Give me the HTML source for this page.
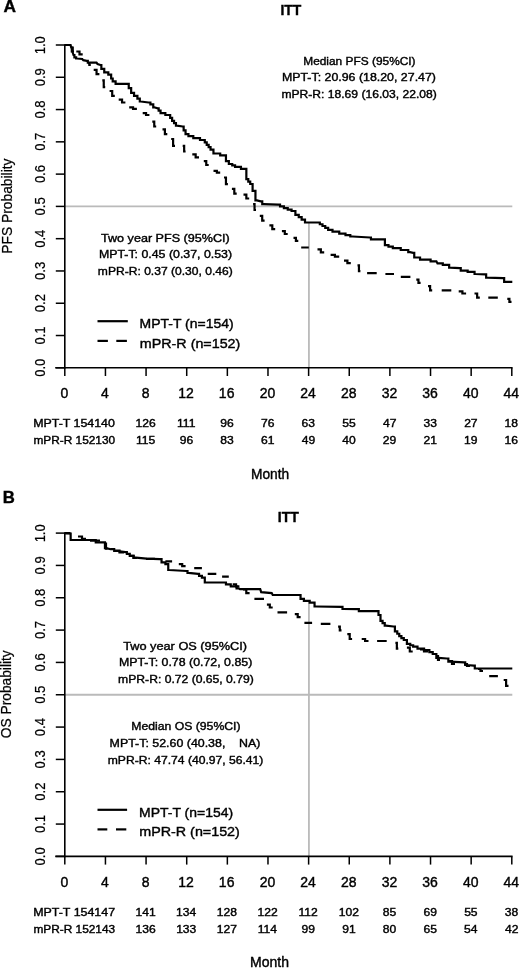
<!DOCTYPE html>
<html><head><meta charset="utf-8"><style>
html,body{margin:0;padding:0;background:#fff;}
svg{display:block;filter:blur(0.3px);}
text{font-family:"Liberation Sans", sans-serif;fill:#000;stroke:#000;stroke-width:0.4px;}
</style></head><body>
<svg width="520" height="968" viewBox="0 0 520 968">
<rect width="520" height="968" fill="#fff"/>
<text x="3.57" y="12.40" font-size="17" font-weight="bold" textLength="12.50" lengthAdjust="spacingAndGlyphs" style="white-space:pre">A</text>
<text x="280.50" y="14.50" font-size="14" font-weight="bold" textLength="20.84" lengthAdjust="spacingAndGlyphs" style="white-space:pre">ITT</text>
<line x1="64.80" y1="206.40" x2="512.30" y2="206.40" stroke="#bababa" stroke-width="1.8"/>
<line x1="308.92" y1="222.50" x2="308.92" y2="367.80" stroke="#bababa" stroke-width="1.8"/>
<line x1="64.80" y1="44.40" x2="64.80" y2="368.60" stroke="#000" stroke-width="1.6"/>
<line x1="55.20" y1="367.80" x2="512.60" y2="367.80" stroke="#000" stroke-width="1.6"/>
<line x1="55.80" y1="367.80" x2="64.80" y2="367.80" stroke="#000" stroke-width="1.5"/>
<line x1="55.80" y1="335.52" x2="64.80" y2="335.52" stroke="#000" stroke-width="1.5"/>
<line x1="55.80" y1="303.24" x2="64.80" y2="303.24" stroke="#000" stroke-width="1.5"/>
<line x1="55.80" y1="270.96" x2="64.80" y2="270.96" stroke="#000" stroke-width="1.5"/>
<line x1="55.80" y1="238.68" x2="64.80" y2="238.68" stroke="#000" stroke-width="1.5"/>
<line x1="55.80" y1="206.40" x2="64.80" y2="206.40" stroke="#000" stroke-width="1.5"/>
<line x1="55.80" y1="174.12" x2="64.80" y2="174.12" stroke="#000" stroke-width="1.5"/>
<line x1="55.80" y1="141.84" x2="64.80" y2="141.84" stroke="#000" stroke-width="1.5"/>
<line x1="55.80" y1="109.56" x2="64.80" y2="109.56" stroke="#000" stroke-width="1.5"/>
<line x1="55.80" y1="77.28" x2="64.80" y2="77.28" stroke="#000" stroke-width="1.5"/>
<line x1="55.80" y1="45.00" x2="64.80" y2="45.00" stroke="#000" stroke-width="1.5"/>
<line x1="64.80" y1="367.80" x2="64.80" y2="376.00" stroke="#000" stroke-width="1.5"/>
<line x1="105.44" y1="367.80" x2="105.44" y2="376.00" stroke="#000" stroke-width="1.5"/>
<line x1="146.07" y1="367.80" x2="146.07" y2="376.00" stroke="#000" stroke-width="1.5"/>
<line x1="186.71" y1="367.80" x2="186.71" y2="376.00" stroke="#000" stroke-width="1.5"/>
<line x1="227.35" y1="367.80" x2="227.35" y2="376.00" stroke="#000" stroke-width="1.5"/>
<line x1="267.98" y1="367.80" x2="267.98" y2="376.00" stroke="#000" stroke-width="1.5"/>
<line x1="308.62" y1="367.80" x2="308.62" y2="376.00" stroke="#000" stroke-width="1.5"/>
<line x1="349.25" y1="367.80" x2="349.25" y2="376.00" stroke="#000" stroke-width="1.5"/>
<line x1="389.89" y1="367.80" x2="389.89" y2="376.00" stroke="#000" stroke-width="1.5"/>
<line x1="430.53" y1="367.80" x2="430.53" y2="376.00" stroke="#000" stroke-width="1.5"/>
<line x1="471.16" y1="367.80" x2="471.16" y2="376.00" stroke="#000" stroke-width="1.5"/>
<line x1="511.80" y1="367.80" x2="511.80" y2="376.00" stroke="#000" stroke-width="1.5"/>
<text transform="translate(45.20,376.31) scale(1.100,1) rotate(-90)" x="-0.52" y="0" font-size="13" textLength="18.07" lengthAdjust="spacingAndGlyphs" style="stroke-width:0.2px">0.0</text>
<text transform="translate(45.20,343.97) scale(1.100,1) rotate(-90)" x="-0.52" y="0" font-size="13" textLength="18.07" lengthAdjust="spacingAndGlyphs" style="stroke-width:0.2px">0.1</text>
<text transform="translate(45.20,311.69) scale(1.100,1) rotate(-90)" x="-0.52" y="0" font-size="13" textLength="18.07" lengthAdjust="spacingAndGlyphs" style="stroke-width:0.2px">0.2</text>
<text transform="translate(45.20,279.44) scale(1.100,1) rotate(-90)" x="-0.52" y="0" font-size="13" textLength="18.07" lengthAdjust="spacingAndGlyphs" style="stroke-width:0.2px">0.3</text>
<text transform="translate(45.20,247.26) scale(1.100,1) rotate(-90)" x="-0.52" y="0" font-size="13" textLength="18.07" lengthAdjust="spacingAndGlyphs" style="stroke-width:0.2px">0.4</text>
<text transform="translate(45.20,214.92) scale(1.100,1) rotate(-90)" x="-0.52" y="0" font-size="13" textLength="18.07" lengthAdjust="spacingAndGlyphs" style="stroke-width:0.2px">0.5</text>
<text transform="translate(45.20,182.60) scale(1.100,1) rotate(-90)" x="-0.52" y="0" font-size="13" textLength="18.07" lengthAdjust="spacingAndGlyphs" style="stroke-width:0.2px">0.6</text>
<text transform="translate(45.20,150.29) scale(1.100,1) rotate(-90)" x="-0.52" y="0" font-size="13" textLength="18.07" lengthAdjust="spacingAndGlyphs" style="stroke-width:0.2px">0.7</text>
<text transform="translate(45.20,118.08) scale(1.100,1) rotate(-90)" x="-0.52" y="0" font-size="13" textLength="18.07" lengthAdjust="spacingAndGlyphs" style="stroke-width:0.2px">0.8</text>
<text transform="translate(45.20,85.76) scale(1.100,1) rotate(-90)" x="-0.52" y="0" font-size="13" textLength="18.07" lengthAdjust="spacingAndGlyphs" style="stroke-width:0.2px">0.9</text>
<text transform="translate(45.20,53.29) scale(1.100,1) rotate(-90)" x="-0.98" y="0" font-size="13" textLength="18.07" lengthAdjust="spacingAndGlyphs" style="stroke-width:0.2px">1.0</text>
<text x="60.41" y="398.10" font-size="14" textLength="7.79" lengthAdjust="spacingAndGlyphs" style="white-space:pre">0</text>
<text x="101.09" y="398.10" font-size="14" textLength="7.79" lengthAdjust="spacingAndGlyphs" style="white-space:pre">4</text>
<text x="141.65" y="398.10" font-size="14" textLength="7.79" lengthAdjust="spacingAndGlyphs" style="white-space:pre">8</text>
<text x="178.26" y="398.10" font-size="14" textLength="15.57" lengthAdjust="spacingAndGlyphs" style="white-space:pre">12</text>
<text x="218.87" y="398.10" font-size="14" textLength="15.57" lengthAdjust="spacingAndGlyphs" style="white-space:pre">16</text>
<text x="259.64" y="398.10" font-size="14" textLength="15.57" lengthAdjust="spacingAndGlyphs" style="white-space:pre">20</text>
<text x="300.21" y="398.10" font-size="14" textLength="15.57" lengthAdjust="spacingAndGlyphs" style="white-space:pre">24</text>
<text x="340.91" y="398.10" font-size="14" textLength="15.57" lengthAdjust="spacingAndGlyphs" style="white-space:pre">28</text>
<text x="381.69" y="398.10" font-size="14" textLength="15.57" lengthAdjust="spacingAndGlyphs" style="white-space:pre">32</text>
<text x="422.29" y="398.10" font-size="14" textLength="15.57" lengthAdjust="spacingAndGlyphs" style="white-space:pre">36</text>
<text x="463.00" y="398.10" font-size="14" textLength="15.57" lengthAdjust="spacingAndGlyphs" style="white-space:pre">40</text>
<text x="503.56" y="398.10" font-size="14" textLength="15.57" lengthAdjust="spacingAndGlyphs" style="white-space:pre">44</text>
<text transform="translate(11.90,252.60) scale(1.100,1) rotate(-90)" x="-1.10" y="0" font-size="13" textLength="95.15" lengthAdjust="spacingAndGlyphs" style="stroke-width:0.2px">PFS Probability</text>
<text x="33.21" y="426.80" font-size="11" textLength="81.70" lengthAdjust="spacingAndGlyphs" style="white-space:pre">MPT-T 154140</text>
<text x="33.43" y="444.00" font-size="11" textLength="81.67" lengthAdjust="spacingAndGlyphs" style="white-space:pre">mPR-R 152130</text>
<text x="135.52" y="426.80" font-size="11" textLength="20.19" lengthAdjust="spacingAndGlyphs" style="white-space:pre">126</text>
<text x="135.91" y="444.00" font-size="11" textLength="19.29" lengthAdjust="spacingAndGlyphs" style="white-space:pre">115</text>
<text x="177.06" y="426.80" font-size="11" textLength="18.39" lengthAdjust="spacingAndGlyphs" style="white-space:pre">111</text>
<text x="179.69" y="444.00" font-size="11" textLength="13.46" lengthAdjust="spacingAndGlyphs" style="white-space:pre">96</text>
<text x="220.33" y="426.80" font-size="11" textLength="13.46" lengthAdjust="spacingAndGlyphs" style="white-space:pre">96</text>
<text x="220.33" y="444.00" font-size="11" textLength="13.46" lengthAdjust="spacingAndGlyphs" style="white-space:pre">83</text>
<text x="260.94" y="426.80" font-size="11" textLength="13.46" lengthAdjust="spacingAndGlyphs" style="white-space:pre">76</text>
<text x="260.97" y="444.00" font-size="11" textLength="13.46" lengthAdjust="spacingAndGlyphs" style="white-space:pre">61</text>
<text x="301.57" y="426.80" font-size="11" textLength="13.46" lengthAdjust="spacingAndGlyphs" style="white-space:pre">63</text>
<text x="301.72" y="444.00" font-size="11" textLength="13.46" lengthAdjust="spacingAndGlyphs" style="white-space:pre">49</text>
<text x="342.24" y="426.80" font-size="11" textLength="13.46" lengthAdjust="spacingAndGlyphs" style="white-space:pre">55</text>
<text x="342.33" y="444.00" font-size="11" textLength="13.46" lengthAdjust="spacingAndGlyphs" style="white-space:pre">40</text>
<text x="383.03" y="426.80" font-size="11" textLength="13.46" lengthAdjust="spacingAndGlyphs" style="white-space:pre">47</text>
<text x="382.85" y="444.00" font-size="11" textLength="13.46" lengthAdjust="spacingAndGlyphs" style="white-space:pre">29</text>
<text x="423.54" y="426.80" font-size="11" textLength="13.46" lengthAdjust="spacingAndGlyphs" style="white-space:pre">33</text>
<text x="423.51" y="444.00" font-size="11" textLength="13.46" lengthAdjust="spacingAndGlyphs" style="white-space:pre">21</text>
<text x="464.15" y="426.80" font-size="11" textLength="13.46" lengthAdjust="spacingAndGlyphs" style="white-space:pre">27</text>
<text x="463.97" y="444.00" font-size="11" textLength="13.46" lengthAdjust="spacingAndGlyphs" style="white-space:pre">19</text>
<text x="504.57" y="426.80" font-size="11" textLength="13.46" lengthAdjust="spacingAndGlyphs" style="white-space:pre">18</text>
<text x="504.60" y="444.00" font-size="11" textLength="13.46" lengthAdjust="spacingAndGlyphs" style="white-space:pre">16</text>
<text x="251.00" y="478.50" font-size="14" textLength="38.18" lengthAdjust="spacingAndGlyphs" style="white-space:pre">Month</text>
<text x="303.25" y="64.50" font-size="11.4" textLength="112.30" lengthAdjust="spacingAndGlyphs" style="white-space:pre">Median PFS (95%CI)</text>
<text x="281.91" y="80.70" font-size="11.4" textLength="154.05" lengthAdjust="spacingAndGlyphs" style="white-space:pre">MPT-T: 20.96 (18.20, 27.47)</text>
<text x="281.41" y="97.60" font-size="11.4" textLength="155.37" lengthAdjust="spacingAndGlyphs" style="white-space:pre">mPR-R: 18.69 (16.03, 22.08)</text>
<text x="101.04" y="242.10" font-size="11.4" textLength="128.64" lengthAdjust="spacingAndGlyphs" style="white-space:pre">Two year PFS (95%CI)</text>
<text x="98.91" y="258.20" font-size="11.4" textLength="133.17" lengthAdjust="spacingAndGlyphs" style="white-space:pre">MPT-T: 0.45 (0.37, 0.53)</text>
<text x="97.87" y="275.20" font-size="11.4" textLength="134.88" lengthAdjust="spacingAndGlyphs" style="white-space:pre">mPR-R: 0.37 (0.30, 0.46)</text>
<line x1="97.50" y1="321.20" x2="127.80" y2="321.20" stroke="#000" stroke-width="2.2"/>
<line x1="97.50" y1="340.90" x2="107.90" y2="340.90" stroke="#000" stroke-width="2.2"/>
<line x1="116.30" y1="340.90" x2="126.90" y2="340.90" stroke="#000" stroke-width="2.2"/>
<text x="139.63" y="328.00" font-size="13.6" textLength="93.96" lengthAdjust="spacingAndGlyphs" style="white-space:pre">MPT-T (n=154)</text>
<text x="139.82" y="347.50" font-size="13.6" textLength="100.51" lengthAdjust="spacingAndGlyphs" style="white-space:pre">mPR-R (n=152)</text>
<path d="M64.60,45.00L70.60,45.00L71.20,47.50H71.80V51.50H72.40L73.50,55.00H74.40V57.30H75.30H76.15V58.50H77.00L82.20,59.00L83.30,60.20L86.80,60.80H87.80V62.70H88.80L96.50,62.70L97.50,64.00L100.40,65.00H101.35V68.80H102.30H104.25V72.30H106.20H108.30V74.60H110.40H111.15V78.50H111.90H112.70V81.30H113.50H115.60V83.80H117.70L127.30,83.80H128.75V88.10H130.20H131.15V92.90H132.10H134.05V95.80H136.00H137.40V98.70H138.80H139.80V101.50H140.80L148.50,102.50H150.40V104.40H152.30H153.25V107.30H154.20L157.70,108.30H158.65V110.70H160.55V113.10H161.50H165.35V115.00H169.20H170.17V117.90H172.12V120.80H173.10H174.05V123.20H175.95V125.60H176.90L182.70,126.50H183.65V130.35H185.55V134.20H186.50H188.45V136.20H190.40H193.30V138.10H196.20H200.00V140.00H203.80H204.78V142.40H206.72V144.80H207.70H208.65V147.20H210.55V149.60H211.50H213.45V153.50H215.40H220.20V155.40H225.00H225.95V161.20H226.90H228.85V164.00H230.80H232.23V165.45H235.07V166.90H236.50H240.95V168.80H245.40H246.35V179.20H247.30H248.28V181.60H250.22V184.00H251.20H252.60V190.80H254.00H255.45V200.40H256.90L260.80,201.30H262.25V204.20H263.70L278.10,204.60H280.03V206.35H283.88V208.10H285.80H287.73V209.55H291.57V211.00H293.50H295.40V214.80H297.30H298.75V217.20H301.65V219.60H303.10H305.00V222.50H306.90L318.50,222.50H319.82V224.25H322.48V226.00H323.80H325.25V227.90H328.15V229.80H329.60H332.50V231.70H335.40H339.25V233.70H343.10H345.50V235.10H350.30V236.50H352.70L370.00,237.50H370.95V239.40H371.90L383.50,239.40H384.90V245.20H386.30H388.48V246.65H392.82V248.10H395.00H400.75V250.00H406.50H408.25V252.20H410.00L413.20,252.80H414.25V257.50H415.30H420.05V259.60H424.80H430.60V261.30H436.40L437.50,263.40H442.80V264.90H448.10H449.15V267.70H450.20L459.70,268.10H460.75V270.60H461.80H467.65V271.90H473.50H474.55V274.00H475.60L485.10,274.40H486.15V277.60H487.20L503.10,278.20H504.15V281.80H505.20L512.30,281.80" fill="none" stroke="#000" stroke-width="2.2" stroke-linejoin="miter" stroke-linecap="butt"/>
<path d="M64.60,45.00H70.50M71.50,47.50H72.75V51.50H74.00M76.30,51.50H79.50V54.40H82.70M87.90,63.10H89.35V65.00H90.80M93.70,69.80H96.55V74.20H99.40M102.30,80.40H103.75V87.10H105.20M109.60,91.00H112.20V95.80H114.80M118.70,99.60H122.05V102.50H125.40M129.20,107.30H133.05V108.80H136.90M142.70,113.10H146.05V115.00H149.40M152.30,121.70H154.25V126.50H156.20M162.50,129.40H164.90V134.20H167.30M171.20,139.00H173.10V145.80H175.00M182.70,145.80H184.15V151.50H185.60M192.30,154.40H195.65V157.30H199.00M203.80,161.20H206.25V165.00H208.70M213.50,170.80H216.85V172.70H220.20M224.00,177.50H225.95V184.20H227.90M231.90,188.80H234.30V193.70H236.70M243.50,194.60H246.35V198.50H249.20M253.10,204.20H254.55V210.00H256.00M259.80,215.80H262.20V220.60H264.60M269.40,225.40H272.30V229.20H275.20M281.90,231.20H284.80V234.00H287.70M293.50,237.90H295.90V240.80H298.30M301.20,247.50H308.80M317.50,249.40H320.85V252.30H324.20M330.60,254.80H334.90V256.70H339.20M344.00,260.60H347.40V263.10H350.80M357.50,265.40H358.95V271.20H360.40M367.10,273.10H376.70M385.40,274.00H394.00M400.80,276.90H410.40M416.30,279.70H418.45V282.90H420.60M428.00,286.10H430.10V290.30H432.20M441.70,290.30H451.30M458.70,291.30H462.40V293.50H466.10M474.50,293.50H477.15V297.70H479.80M488.30,297.70H497.80M507.30,298.80H509.40V301.90H511.50" fill="none" stroke="#000" stroke-width="2.2" stroke-linejoin="miter" stroke-linecap="butt"/>
<text x="2.81" y="502.60" font-size="17" font-weight="bold" textLength="12.08" lengthAdjust="spacingAndGlyphs" style="white-space:pre">B</text>
<text x="277.89" y="521.80" font-size="14" font-weight="bold" textLength="21.05" lengthAdjust="spacingAndGlyphs" style="white-space:pre">ITT</text>
<line x1="64.80" y1="694.75" x2="512.30" y2="694.75" stroke="#bababa" stroke-width="1.8"/>
<line x1="308.92" y1="601.50" x2="308.92" y2="856.40" stroke="#bababa" stroke-width="1.8"/>
<line x1="64.80" y1="532.50" x2="64.80" y2="857.20" stroke="#000" stroke-width="1.6"/>
<line x1="55.20" y1="856.40" x2="512.60" y2="856.40" stroke="#000" stroke-width="1.6"/>
<line x1="55.80" y1="856.40" x2="64.80" y2="856.40" stroke="#000" stroke-width="1.5"/>
<line x1="55.80" y1="824.07" x2="64.80" y2="824.07" stroke="#000" stroke-width="1.5"/>
<line x1="55.80" y1="791.74" x2="64.80" y2="791.74" stroke="#000" stroke-width="1.5"/>
<line x1="55.80" y1="759.41" x2="64.80" y2="759.41" stroke="#000" stroke-width="1.5"/>
<line x1="55.80" y1="727.08" x2="64.80" y2="727.08" stroke="#000" stroke-width="1.5"/>
<line x1="55.80" y1="694.75" x2="64.80" y2="694.75" stroke="#000" stroke-width="1.5"/>
<line x1="55.80" y1="662.42" x2="64.80" y2="662.42" stroke="#000" stroke-width="1.5"/>
<line x1="55.80" y1="630.09" x2="64.80" y2="630.09" stroke="#000" stroke-width="1.5"/>
<line x1="55.80" y1="597.76" x2="64.80" y2="597.76" stroke="#000" stroke-width="1.5"/>
<line x1="55.80" y1="565.43" x2="64.80" y2="565.43" stroke="#000" stroke-width="1.5"/>
<line x1="55.80" y1="533.10" x2="64.80" y2="533.10" stroke="#000" stroke-width="1.5"/>
<line x1="64.80" y1="856.40" x2="64.80" y2="864.60" stroke="#000" stroke-width="1.5"/>
<line x1="105.44" y1="856.40" x2="105.44" y2="864.60" stroke="#000" stroke-width="1.5"/>
<line x1="146.07" y1="856.40" x2="146.07" y2="864.60" stroke="#000" stroke-width="1.5"/>
<line x1="186.71" y1="856.40" x2="186.71" y2="864.60" stroke="#000" stroke-width="1.5"/>
<line x1="227.35" y1="856.40" x2="227.35" y2="864.60" stroke="#000" stroke-width="1.5"/>
<line x1="267.98" y1="856.40" x2="267.98" y2="864.60" stroke="#000" stroke-width="1.5"/>
<line x1="308.62" y1="856.40" x2="308.62" y2="864.60" stroke="#000" stroke-width="1.5"/>
<line x1="349.25" y1="856.40" x2="349.25" y2="864.60" stroke="#000" stroke-width="1.5"/>
<line x1="389.89" y1="856.40" x2="389.89" y2="864.60" stroke="#000" stroke-width="1.5"/>
<line x1="430.53" y1="856.40" x2="430.53" y2="864.60" stroke="#000" stroke-width="1.5"/>
<line x1="471.16" y1="856.40" x2="471.16" y2="864.60" stroke="#000" stroke-width="1.5"/>
<line x1="511.80" y1="856.40" x2="511.80" y2="864.60" stroke="#000" stroke-width="1.5"/>
<text transform="translate(45.20,864.91) scale(1.100,1) rotate(-90)" x="-0.52" y="0" font-size="13" textLength="18.07" lengthAdjust="spacingAndGlyphs" style="stroke-width:0.2px">0.0</text>
<text transform="translate(45.20,832.52) scale(1.100,1) rotate(-90)" x="-0.52" y="0" font-size="13" textLength="18.07" lengthAdjust="spacingAndGlyphs" style="stroke-width:0.2px">0.1</text>
<text transform="translate(45.20,800.19) scale(1.100,1) rotate(-90)" x="-0.52" y="0" font-size="13" textLength="18.07" lengthAdjust="spacingAndGlyphs" style="stroke-width:0.2px">0.2</text>
<text transform="translate(45.20,767.89) scale(1.100,1) rotate(-90)" x="-0.52" y="0" font-size="13" textLength="18.07" lengthAdjust="spacingAndGlyphs" style="stroke-width:0.2px">0.3</text>
<text transform="translate(45.20,735.66) scale(1.100,1) rotate(-90)" x="-0.52" y="0" font-size="13" textLength="18.07" lengthAdjust="spacingAndGlyphs" style="stroke-width:0.2px">0.4</text>
<text transform="translate(45.20,703.26) scale(1.100,1) rotate(-90)" x="-0.52" y="0" font-size="13" textLength="18.07" lengthAdjust="spacingAndGlyphs" style="stroke-width:0.2px">0.5</text>
<text transform="translate(45.20,670.90) scale(1.100,1) rotate(-90)" x="-0.52" y="0" font-size="13" textLength="18.07" lengthAdjust="spacingAndGlyphs" style="stroke-width:0.2px">0.6</text>
<text transform="translate(45.20,638.54) scale(1.100,1) rotate(-90)" x="-0.52" y="0" font-size="13" textLength="18.07" lengthAdjust="spacingAndGlyphs" style="stroke-width:0.2px">0.7</text>
<text transform="translate(45.20,606.27) scale(1.100,1) rotate(-90)" x="-0.52" y="0" font-size="13" textLength="18.07" lengthAdjust="spacingAndGlyphs" style="stroke-width:0.2px">0.8</text>
<text transform="translate(45.20,573.91) scale(1.100,1) rotate(-90)" x="-0.52" y="0" font-size="13" textLength="18.07" lengthAdjust="spacingAndGlyphs" style="stroke-width:0.2px">0.9</text>
<text transform="translate(45.20,541.39) scale(1.100,1) rotate(-90)" x="-0.98" y="0" font-size="13" textLength="18.07" lengthAdjust="spacingAndGlyphs" style="stroke-width:0.2px">1.0</text>
<text x="60.41" y="886.70" font-size="14" textLength="7.79" lengthAdjust="spacingAndGlyphs" style="white-space:pre">0</text>
<text x="101.09" y="886.70" font-size="14" textLength="7.79" lengthAdjust="spacingAndGlyphs" style="white-space:pre">4</text>
<text x="141.65" y="886.70" font-size="14" textLength="7.79" lengthAdjust="spacingAndGlyphs" style="white-space:pre">8</text>
<text x="178.26" y="886.70" font-size="14" textLength="15.57" lengthAdjust="spacingAndGlyphs" style="white-space:pre">12</text>
<text x="218.87" y="886.70" font-size="14" textLength="15.57" lengthAdjust="spacingAndGlyphs" style="white-space:pre">16</text>
<text x="259.64" y="886.70" font-size="14" textLength="15.57" lengthAdjust="spacingAndGlyphs" style="white-space:pre">20</text>
<text x="300.21" y="886.70" font-size="14" textLength="15.57" lengthAdjust="spacingAndGlyphs" style="white-space:pre">24</text>
<text x="340.91" y="886.70" font-size="14" textLength="15.57" lengthAdjust="spacingAndGlyphs" style="white-space:pre">28</text>
<text x="381.69" y="886.70" font-size="14" textLength="15.57" lengthAdjust="spacingAndGlyphs" style="white-space:pre">32</text>
<text x="422.29" y="886.70" font-size="14" textLength="15.57" lengthAdjust="spacingAndGlyphs" style="white-space:pre">36</text>
<text x="463.00" y="886.70" font-size="14" textLength="15.57" lengthAdjust="spacingAndGlyphs" style="white-space:pre">40</text>
<text x="503.56" y="886.70" font-size="14" textLength="15.57" lengthAdjust="spacingAndGlyphs" style="white-space:pre">44</text>
<text transform="translate(11.00,737.60) scale(1.100,1) rotate(-90)" x="-0.62" y="0" font-size="13" textLength="87.91" lengthAdjust="spacingAndGlyphs" style="stroke-width:0.2px">OS Probability</text>
<text x="33.21" y="915.90" font-size="11" textLength="81.83" lengthAdjust="spacingAndGlyphs" style="white-space:pre">MPT-T 154147</text>
<text x="33.43" y="932.80" font-size="11" textLength="81.73" lengthAdjust="spacingAndGlyphs" style="white-space:pre">mPR-R 152143</text>
<text x="135.55" y="915.90" font-size="11" textLength="20.19" lengthAdjust="spacingAndGlyphs" style="white-space:pre">141</text>
<text x="135.52" y="932.80" font-size="11" textLength="20.19" lengthAdjust="spacingAndGlyphs" style="white-space:pre">136</text>
<text x="176.06" y="915.90" font-size="11" textLength="20.19" lengthAdjust="spacingAndGlyphs" style="white-space:pre">134</text>
<text x="176.15" y="932.80" font-size="11" textLength="20.19" lengthAdjust="spacingAndGlyphs" style="white-space:pre">133</text>
<text x="216.76" y="915.90" font-size="11" textLength="20.19" lengthAdjust="spacingAndGlyphs" style="white-space:pre">128</text>
<text x="216.82" y="932.80" font-size="11" textLength="20.19" lengthAdjust="spacingAndGlyphs" style="white-space:pre">127</text>
<text x="257.46" y="915.90" font-size="11" textLength="20.19" lengthAdjust="spacingAndGlyphs" style="white-space:pre">122</text>
<text x="257.76" y="932.80" font-size="11" textLength="19.29" lengthAdjust="spacingAndGlyphs" style="white-space:pre">114</text>
<text x="298.52" y="915.90" font-size="11" textLength="19.29" lengthAdjust="spacingAndGlyphs" style="white-space:pre">112</text>
<text x="301.60" y="932.80" font-size="11" textLength="13.46" lengthAdjust="spacingAndGlyphs" style="white-space:pre">99</text>
<text x="338.73" y="915.90" font-size="11" textLength="20.19" lengthAdjust="spacingAndGlyphs" style="white-space:pre">102</text>
<text x="342.27" y="932.80" font-size="11" textLength="13.46" lengthAdjust="spacingAndGlyphs" style="white-space:pre">91</text>
<text x="382.85" y="915.90" font-size="11" textLength="13.46" lengthAdjust="spacingAndGlyphs" style="white-space:pre">85</text>
<text x="382.85" y="932.80" font-size="11" textLength="13.46" lengthAdjust="spacingAndGlyphs" style="white-space:pre">80</text>
<text x="423.48" y="915.90" font-size="11" textLength="13.46" lengthAdjust="spacingAndGlyphs" style="white-space:pre">69</text>
<text x="423.45" y="932.80" font-size="11" textLength="13.46" lengthAdjust="spacingAndGlyphs" style="white-space:pre">65</text>
<text x="464.15" y="915.90" font-size="11" textLength="13.46" lengthAdjust="spacingAndGlyphs" style="white-space:pre">55</text>
<text x="464.09" y="932.80" font-size="11" textLength="13.46" lengthAdjust="spacingAndGlyphs" style="white-space:pre">54</text>
<text x="504.78" y="915.90" font-size="11" textLength="13.46" lengthAdjust="spacingAndGlyphs" style="white-space:pre">38</text>
<text x="504.94" y="932.80" font-size="11" textLength="13.46" lengthAdjust="spacingAndGlyphs" style="white-space:pre">42</text>
<text x="250.08" y="967.30" font-size="14" textLength="38.92" lengthAdjust="spacingAndGlyphs" style="white-space:pre">Month</text>
<text x="123.18" y="650.20" font-size="11.4" textLength="123.90" lengthAdjust="spacingAndGlyphs" style="white-space:pre">Two year OS (95%CI)</text>
<text x="118.91" y="666.30" font-size="11.4" textLength="133.37" lengthAdjust="spacingAndGlyphs" style="white-space:pre">MPT-T: 0.78 (0.72, 0.85)</text>
<text x="118.11" y="682.60" font-size="11.4" textLength="135.64" lengthAdjust="spacingAndGlyphs" style="white-space:pre">mPR-R: 0.72 (0.65, 0.79)</text>
<text x="131.22" y="730.40" font-size="11.4" textLength="109.35" lengthAdjust="spacingAndGlyphs" style="white-space:pre">Median OS (95%CI)</text>
<text x="109.61" y="746.70" font-size="11.4" textLength="150.86" lengthAdjust="spacingAndGlyphs" style="white-space:pre">MPT-T: 52.60 (40.38,    NA)</text>
<text x="107.71" y="763.60" font-size="11.4" textLength="155.68" lengthAdjust="spacingAndGlyphs" style="white-space:pre">mPR-R: 47.74 (40.97, 56.41)</text>
<line x1="97.50" y1="809.80" x2="127.10" y2="809.80" stroke="#000" stroke-width="2.2"/>
<line x1="97.50" y1="829.40" x2="107.30" y2="829.40" stroke="#000" stroke-width="2.2"/>
<line x1="116.00" y1="829.40" x2="126.30" y2="829.40" stroke="#000" stroke-width="2.2"/>
<text x="139.08" y="816.60" font-size="13.6" textLength="94.01" lengthAdjust="spacingAndGlyphs" style="white-space:pre">MPT-T (n=154)</text>
<text x="139.27" y="836.30" font-size="13.6" textLength="100.56" lengthAdjust="spacingAndGlyphs" style="white-space:pre">mPR-R (n=152)</text>
<path d="M64.60,533.10L69.80,533.50H70.65V540.00H71.50L94.60,540.00H95.75V542.30H96.90L103.80,542.30H104.95V548.10H106.10L110.70,549.20H114.20V551.00H117.70L125.40,552.10H126.85V553.95H129.75V555.80H131.20H133.60V557.70H136.00L146.50,558.60L159.60,559.20H161.55V562.30H163.50H165.40V564.20H167.30H168.25V570.00H169.20L186.50,571.00H187.50V572.90H188.50L198.10,573.80H199.05V575.80H200.00H201.90V577.70H203.80H204.80V582.50H205.80L225.00,582.50H225.95V584.40H226.90H230.75V586.30H234.60H236.55V588.30H238.50L240.00,589.20L260.20,589.20L261.20,592.10L271.70,593.10L272.70,595.00L299.60,595.00H300.55V598.80H301.50H303.90V600.80H306.30H309.70V602.70H313.10H314.55V606.50H316.00L341.50,606.90H342.50V608.80H343.50L357.90,609.20H358.85V611.20H359.80L377.50,611.20H378.50V615.00H379.50H380.50V620.80H381.50H382.57V623.20H384.73V625.60H385.80L393.50,626.50H394.90V631.30H396.30H397.27V633.75H399.23V636.20H400.20H401.40V638.10H403.80V640.00H405.00H406.90V643.80H408.80H410.25V645.25H413.15V646.70H414.60H417.50V648.70H420.40H424.05V650.20H427.70H429.38V652.10H432.72V654.00H434.40H436.35V657.90H438.30L446.90,658.50H448.35V661.70H449.80L464.20,662.30H465.20V665.00H466.20L473.80,665.60H474.80V668.50H475.80L512.30,668.50" fill="none" stroke="#000" stroke-width="2.2" stroke-linejoin="miter" stroke-linecap="butt"/>
<path d="M64.60,533.10H70.50M78.00,536.50H82.00V538.80H86.00M90.00,540.60H100.00M104.50,543.50H106.00V548.60H107.50M115.00,550.50H119.50V552.50H124.00M130.00,555.80H133.50V558.00H137.00M146.00,558.80H155.00M165.40,561.30H172.10M178.80,564.20H182.20V566.20H185.60M194.20,568.10H201.90M207.70,573.80H216.30M222.10,576.70H228.80M232.70,584.40H236.05V586.30H239.40M243.00,589.50H246.30V593.10H249.60M254.40,598.80H264.00M266.90,604.60H269.80V607.50H272.70M277.50,612.30H287.10M294.80,614.20H297.70V617.10H300.60M304.40,622.90H312.10M320.80,623.80H330.40M338.10,626.70H339.80V630.40H341.50M347.30,634.20H349.70V639.00H352.10M361.70,639.00H365.10V641.00H368.50M377.10,641.00H386.70M395.40,642.90H396.85V648.70H398.30M406.90,647.70H409.80V651.50H412.70M420.00,649.50H424.00V651.50H428.00M436.00,656.00H438.00V660.00H440.00M449.00,661.00H452.00V664.00H455.00M464.00,664.00H467.00V666.00H470.00M478.00,669.00H480.50V671.00H483.00M489.20,676.20H497.90M503.70,680.00H506.10V685.80H508.50" fill="none" stroke="#000" stroke-width="2.2" stroke-linejoin="miter" stroke-linecap="butt"/>
</svg>
</body></html>
